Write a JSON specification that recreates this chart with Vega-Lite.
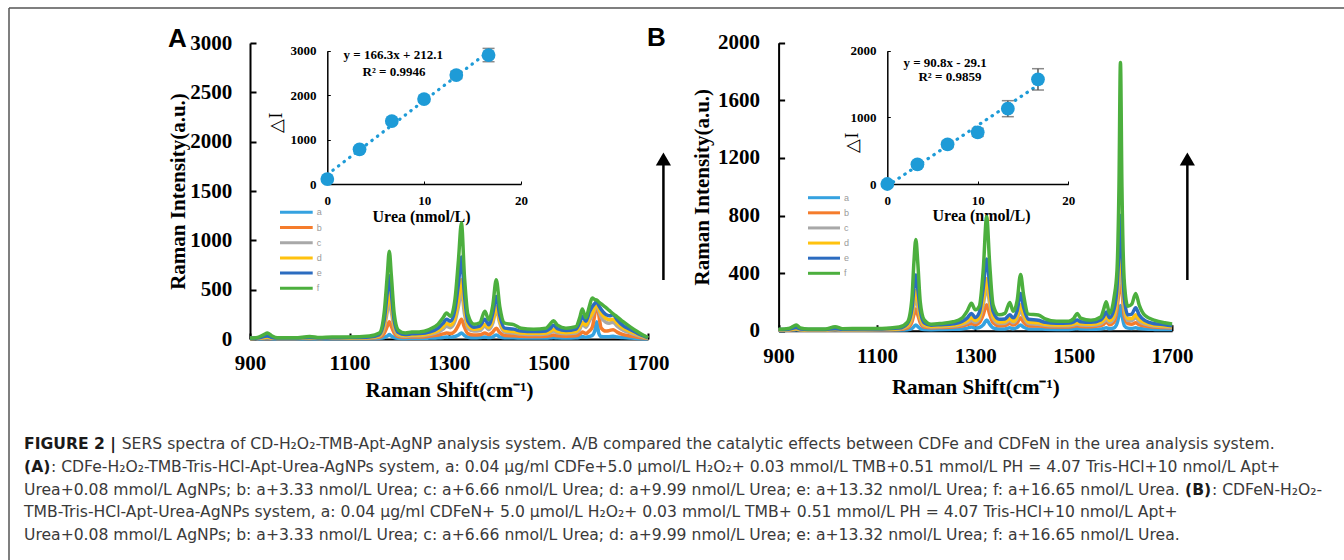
{
  "$schema": "https://vega.github.io/schema/vega-lite/v6.json",
  "width": 1344,
  "height": 560,
  "autosize": "none",
  "padding": 0,
  "background": "white",
  "config": {
    "view": {"stroke": null},
    "axis": {"grid": false, "format": "d", "labelFont": "Liberation Serif", "titleFont": "Liberation Serif", "labelColor": "#000", "titleColor": "#000", "domainColor": "#000", "tickColor": "#000", "labelFontWeight": "bold", "titleFontWeight": "bold", "labelFlush": false, "labelOverlap": false}
  },
  "resolve": {"scale": {"x": "independent", "y": "independent", "color": "independent"}, "axis": {"x": "independent", "y": "independent"}},
  "layer": [
    {
      "data": {"values": [{}]},
      "layer": [
        {"mark": {"type": "rule", "color": "#555555", "strokeWidth": 1.5},
         "encoding": {"x": {"datum": 0, "type": "quantitative", "scale": {"domain": [0, 1], "range": [9, 1344]}, "axis": null}, "x2": {"datum": 1},
                      "y": {"datum": 0, "type": "quantitative", "scale": {"domain": [0, 1], "range": [8, 560]}, "axis": null}}},
        {"mark": {"type": "rule", "color": "#555555", "strokeWidth": 1.5},
         "encoding": {"x": {"datum": 0, "type": "quantitative"}, "y": {"datum": 0, "type": "quantitative"}, "y2": {"datum": 1}}}
      ]
    },
    {
      "layer": [
        {"data": {"values": [{"x": 0, "y": 212.1}, {"x": 16.65, "y": 2981}]},
         "mark": {"type": "line", "color": "#1E9BD7", "strokeWidth": 3.2, "strokeDash": [0.5, 6.5], "strokeCap": "round"},
         "encoding": {
           "x": {"field": "x", "type": "quantitative", "scale": {"domain": [0, 20], "range": [327.3, 521], "zero": false, "nice": false},
                 "axis": {"orient": "bottom", "offset": -376, "values": [0, 10, 20], "labelFontSize": 13, "tickSize": -3, "labelPadding": 13.7, "domainWidth": 1.5, "title": "Urea (nmol/L)", "titleFontSize": 16, "titleX": 421, "titleY": 32.5, "titleBaseline": "middle", "titleAlign": "center"}},
           "y": {"field": "y", "type": "quantitative", "scale": {"domain": [0, 3000], "range": [184, 50.7], "zero": false, "nice": false},
                 "axis": {"orient": "left", "offset": -327.3, "values": [0, 1000, 2000, 3000], "labelFontSize": 13, "tickSize": -3, "labelPadding": 14.3, "domainWidth": 1.5, "title": "△I", "titleFontWeight": "normal", "titleFontSize": 18, "titleX": -50.6, "titleY": 122, "titleBaseline": "middle", "titleAngle": -90}}
         }},
        {"data": {"values": [{"x": 0, "y": 112, "lo": 92, "hi": 132}, {"x": 3.33, "y": 781, "lo": 741, "hi": 821}, {"x": 6.66, "y": 1417, "lo": 1367, "hi": 1467}, {"x": 9.99, "y": 1912, "lo": 1852, "hi": 1972}, {"x": 13.32, "y": 2452, "lo": 2372, "hi": 2532}, {"x": 16.65, "y": 2902, "lo": 2752, "hi": 3052}]},
         "layer": [
           {"mark": {"type": "rule", "color": "#595959", "strokeWidth": 1.5}, "encoding": {"x": {"field": "x", "type": "quantitative"}, "y": {"field": "lo", "type": "quantitative"}, "y2": {"field": "hi"}}},
           {"mark": {"type": "tick", "orient": "horizontal", "color": "#595959", "thickness": 1.5, "size": 12}, "encoding": {"x": {"field": "x", "type": "quantitative"}, "y": {"field": "lo", "type": "quantitative"}}},
           {"mark": {"type": "tick", "orient": "horizontal", "color": "#595959", "thickness": 1.5, "size": 12}, "encoding": {"x": {"field": "x", "type": "quantitative"}, "y": {"field": "hi", "type": "quantitative"}}},
           {"mark": {"type": "circle", "size": 190, "color": "#1E9BD7", "opacity": 1}, "encoding": {"x": {"field": "x", "type": "quantitative"}, "y": {"field": "y", "type": "quantitative"}}}
         ]},
        {"data": {"values": [{}]},
         "layer": [
           {"mark": {"type": "text", "text": "y = 166.3x + 212.1", "font": "Liberation Serif", "fontWeight": "bold", "fontSize": 13, "align": "center", "baseline": "middle"}, "encoding": {"x": {"datum": 6.81, "type": "quantitative"}, "y": {"datum": 2903, "type": "quantitative"}}},
           {"mark": {"type": "text", "text": "R² = 0.9946", "font": "Liberation Serif", "fontWeight": "bold", "fontSize": 13, "align": "center", "baseline": "middle"}, "encoding": {"x": {"datum": 6.89, "type": "quantitative"}, "y": {"datum": 2527, "type": "quantitative"}}}
         ]}
      ]
    },
    {
      "layer": [
        {"data": {"values": [{"x": 0, "y": -29.1}, {"x": 16.65, "y": 1482.7}]},
         "mark": {"type": "line", "color": "#1E9BD7", "strokeWidth": 3.2, "strokeDash": [0.5, 6.5], "strokeCap": "round"},
         "encoding": {
           "x": {"field": "x", "type": "quantitative", "scale": {"domain": [0, 20], "range": [887.3, 1068.3], "zero": false, "nice": false},
                 "axis": {"orient": "bottom", "offset": -376, "values": [0, 10, 20], "labelFontSize": 13, "tickSize": -3, "labelPadding": 13.7, "domainWidth": 1.5, "title": "Urea (nmol/L)", "titleFontSize": 16, "titleX": 981, "titleY": 31.5, "titleBaseline": "middle", "titleAlign": "center"}},
           "y": {"field": "y", "type": "quantitative", "scale": {"domain": [0, 2000], "range": [184, 50.7], "zero": false, "nice": false},
                 "axis": {"orient": "left", "offset": -887.3, "values": [0, 1000, 2000], "labelFontSize": 13, "tickSize": -3, "labelPadding": 14.3, "domainWidth": 1.5, "title": "△I", "titleFontWeight": "normal", "titleFontSize": 18, "titleX": -35, "titleY": 142, "titleBaseline": "middle", "titleAngle": -90}}
         }},
        {"data": {"values": [{"x": 0, "y": 0, "lo": -20, "hi": 20}, {"x": 3.33, "y": 296, "lo": 256, "hi": 336}, {"x": 6.66, "y": 595, "lo": 545, "hi": 645}, {"x": 9.99, "y": 775, "lo": 715, "hi": 835}, {"x": 13.32, "y": 1130, "lo": 1010, "hi": 1250}, {"x": 16.65, "y": 1570, "lo": 1410, "hi": 1730}]},
         "layer": [
           {"mark": {"type": "rule", "color": "#595959", "strokeWidth": 1.5}, "encoding": {"x": {"field": "x", "type": "quantitative"}, "y": {"field": "lo", "type": "quantitative"}, "y2": {"field": "hi"}}},
           {"mark": {"type": "tick", "orient": "horizontal", "color": "#595959", "thickness": 1.5, "size": 12}, "encoding": {"x": {"field": "x", "type": "quantitative"}, "y": {"field": "lo", "type": "quantitative"}}},
           {"mark": {"type": "tick", "orient": "horizontal", "color": "#595959", "thickness": 1.5, "size": 12}, "encoding": {"x": {"field": "x", "type": "quantitative"}, "y": {"field": "hi", "type": "quantitative"}}},
           {"mark": {"type": "circle", "size": 190, "color": "#1E9BD7", "opacity": 1}, "encoding": {"x": {"field": "x", "type": "quantitative"}, "y": {"field": "y", "type": "quantitative"}}}
         ]},
        {"data": {"values": [{}]},
         "layer": [
           {"mark": {"type": "text", "text": "y = 90.8x - 29.1", "font": "Liberation Serif", "fontWeight": "bold", "fontSize": 13, "align": "center", "baseline": "middle"}, "encoding": {"x": {"datum": 6.38, "type": "quantitative"}, "y": {"datum": 1820, "type": "quantitative"}}},
           {"mark": {"type": "text", "text": "R² = 0.9859", "font": "Liberation Serif", "fontWeight": "bold", "fontSize": 13, "align": "center", "baseline": "middle"}, "encoding": {"x": {"datum": 6.92, "type": "quantitative"}, "y": {"datum": 1610, "type": "quantitative"}}}
         ]}
      ]
    },
    {
      "layer": [
        {"data": {"values": [
          {"x": 900, "a": 2, "b": 5, "c": 6, "d": 6, "e": 8, "f": 10},
          {"x": 915, "a": 3, "b": 6, "c": 8, "d": 8, "e": 10, "f": 15},
          {"x": 928, "a": 6, "b": 12, "c": 15, "d": 15, "e": 25, "f": 45},
          {"x": 935, "a": 8, "b": 15, "c": 20, "d": 20, "e": 30, "f": 60},
          {"x": 943, "a": 5, "b": 10, "c": 12, "d": 12, "e": 18, "f": 35},
          {"x": 955, "a": 3, "b": 6, "c": 8, "d": 8, "e": 10, "f": 12},
          {"x": 990, "a": 3, "b": 6, "c": 8, "d": 8, "e": 10, "f": 12},
          {"x": 1020, "a": 4, "b": 8, "c": 10, "d": 10, "e": 15, "f": 25},
          {"x": 1040, "a": 3, "b": 6, "c": 8, "d": 8, "e": 10, "f": 14},
          {"x": 1065, "a": 4, "b": 7, "c": 9, "d": 9, "e": 12, "f": 20},
          {"x": 1100, "a": 4, "b": 7, "c": 10, "d": 10, "e": 14, "f": 20},
          {"x": 1140, "a": 5, "b": 10, "c": 14, "d": 14, "e": 20, "f": 30},
          {"x": 1160, "a": 8, "b": 18, "c": 30, "d": 35, "e": 45, "f": 60},
          {"x": 1170, "a": 15, "b": 60, "c": 120, "d": 150, "e": 200, "f": 280},
          {"x": 1176, "a": 30, "b": 130, "c": 280, "d": 350, "e": 470, "f": 650},
          {"x": 1180, "a": 45, "b": 175, "c": 400, "d": 480, "e": 640, "f": 890},
          {"x": 1184, "a": 30, "b": 130, "c": 280, "d": 350, "e": 470, "f": 650},
          {"x": 1190, "a": 15, "b": 60, "c": 110, "d": 140, "e": 180, "f": 250},
          {"x": 1198, "a": 8, "b": 25, "c": 40, "d": 50, "e": 65, "f": 90},
          {"x": 1212, "a": 6, "b": 18, "c": 28, "d": 35, "e": 45, "f": 60},
          {"x": 1225, "a": 7, "b": 20, "c": 32, "d": 40, "e": 52, "f": 70},
          {"x": 1240, "a": 7, "b": 20, "c": 32, "d": 40, "e": 55, "f": 72},
          {"x": 1260, "a": 9, "b": 28, "c": 45, "d": 55, "e": 70, "f": 95},
          {"x": 1278, "a": 12, "b": 40, "c": 70, "d": 85, "e": 110, "f": 150},
          {"x": 1288, "a": 16, "b": 52, "c": 100, "d": 125, "e": 160, "f": 215},
          {"x": 1295, "a": 20, "b": 60, "c": 130, "d": 160, "e": 200, "f": 263},
          {"x": 1303, "a": 18, "b": 55, "c": 115, "d": 140, "e": 180, "f": 230},
          {"x": 1312, "a": 25, "b": 80, "c": 180, "d": 220, "e": 300, "f": 400},
          {"x": 1319, "a": 40, "b": 140, "c": 330, "d": 400, "e": 560, "f": 800},
          {"x": 1325, "a": 60, "b": 200, "c": 480, "d": 600, "e": 830, "f": 1175},
          {"x": 1331, "a": 35, "b": 120, "c": 260, "d": 330, "e": 450, "f": 640},
          {"x": 1338, "a": 18, "b": 55, "c": 110, "d": 140, "e": 180, "f": 250},
          {"x": 1350, "a": 12, "b": 40, "c": 80, "d": 100, "e": 120, "f": 150},
          {"x": 1362, "a": 14, "b": 42, "c": 85, "d": 105, "e": 130, "f": 165},
          {"x": 1372, "a": 20, "b": 60, "c": 130, "d": 150, "e": 200, "f": 280},
          {"x": 1380, "a": 14, "b": 45, "c": 95, "d": 115, "e": 145, "f": 195},
          {"x": 1388, "a": 22, "b": 70, "c": 160, "d": 190, "e": 260, "f": 340},
          {"x": 1395, "a": 40, "b": 110, "c": 300, "d": 330, "e": 430, "f": 600},
          {"x": 1402, "a": 22, "b": 65, "c": 160, "d": 185, "e": 240, "f": 330},
          {"x": 1412, "a": 12, "b": 35, "c": 70, "d": 85, "e": 110, "f": 160},
          {"x": 1430, "a": 12, "b": 32, "c": 60, "d": 75, "e": 100, "f": 145},
          {"x": 1445, "a": 10, "b": 28, "c": 50, "d": 62, "e": 80, "f": 110},
          {"x": 1470, "a": 9, "b": 25, "c": 45, "d": 58, "e": 75, "f": 100},
          {"x": 1495, "a": 10, "b": 28, "c": 50, "d": 62, "e": 82, "f": 110},
          {"x": 1503, "a": 12, "b": 33, "c": 62, "d": 78, "e": 105, "f": 150},
          {"x": 1510, "a": 15, "b": 40, "c": 80, "d": 100, "e": 140, "f": 185},
          {"x": 1518, "a": 12, "b": 32, "c": 62, "d": 78, "e": 105, "f": 140},
          {"x": 1535, "a": 10, "b": 28, "c": 52, "d": 64, "e": 85, "f": 110},
          {"x": 1555, "a": 12, "b": 32, "c": 60, "d": 75, "e": 100, "f": 125},
          {"x": 1563, "a": 18, "b": 50, "c": 100, "d": 125, "e": 170, "f": 220},
          {"x": 1568, "a": 25, "b": 70, "c": 150, "d": 170, "e": 230, "f": 303},
          {"x": 1575, "a": 18, "b": 55, "c": 120, "d": 140, "e": 180, "f": 215},
          {"x": 1582, "a": 25, "b": 80, "c": 180, "d": 210, "e": 270, "f": 330},
          {"x": 1588, "a": 35, "b": 120, "c": 240, "d": 260, "e": 330, "f": 415},
          {"x": 1593, "a": 80, "b": 250, "c": 300, "d": 320, "e": 360, "f": 400},
          {"x": 1597, "a": 175, "b": 390, "c": 360, "d": 370, "e": 380, "f": 395},
          {"x": 1601, "a": 60, "b": 250, "c": 290, "d": 310, "e": 340, "f": 375},
          {"x": 1606, "a": 25, "b": 110, "c": 220, "d": 260, "e": 300, "f": 355},
          {"x": 1615, "a": 22, "b": 80, "c": 170, "d": 210, "e": 250, "f": 320},
          {"x": 1622, "a": 24, "b": 85, "c": 160, "d": 195, "e": 235, "f": 290},
          {"x": 1630, "a": 28, "b": 95, "c": 170, "d": 200, "e": 245, "f": 255},
          {"x": 1638, "a": 20, "b": 70, "c": 130, "d": 160, "e": 195, "f": 225},
          {"x": 1650, "a": 15, "b": 45, "c": 90, "d": 110, "e": 135, "f": 175},
          {"x": 1665, "a": 10, "b": 30, "c": 60, "d": 75, "e": 95, "f": 120},
          {"x": 1680, "a": 6, "b": 18, "c": 35, "d": 45, "e": 55, "f": 70},
          {"x": 1692, "a": 3, "b": 10, "c": 18, "d": 22, "e": 28, "f": 35},
          {"x": 1700, "a": 2, "b": 5, "c": 8, "d": 10, "e": 12, "f": 15}
         ]},
         "transform": [{"fold": ["a", "b", "c", "d", "e", "f"], "as": ["series", "value"]}],
         "mark": {"type": "line", "strokeWidth": 3.5, "interpolate": "monotone", "strokeJoin": "round"},
         "encoding": {
           "x": {"field": "x", "type": "quantitative", "scale": {"domain": [900, 1700], "range": [250, 648], "zero": false, "nice": false},
                 "axis": {"orient": "bottom", "offset": -221, "values": [900, 1100, 1300, 1500, 1700], "labelFontSize": 21, "tickSize": -6, "tickWidth": 2, "labelPadding": 19, "domainWidth": 2, "title": "Raman Shift(cm⁻¹)", "titleFontSize": 21, "titleY": 51, "titleBaseline": "middle"}},
           "y": {"field": "value", "type": "quantitative", "scale": {"domain": [0, 3000], "range": [339, 43], "zero": false, "nice": false},
                 "axis": {"orient": "left", "offset": -250, "values": [0, 500, 1000, 1500, 2000, 2500, 3000], "labelFontSize": 21, "tickSize": -6, "tickWidth": 2, "labelPadding": 24.3, "domainWidth": 2, "title": "Raman Intensity(a.u.)", "titleFontSize": 21, "titleX": -71.7, "titleBaseline": "middle", "titleAngle": -90}},
           "color": {"field": "series", "type": "nominal", "scale": {"domain": ["a", "b", "c", "d", "e", "f"], "range": ["#35A2E0", "#F57C2C", "#A8A8A8", "#FFC20E", "#2C6CC0", "#4CAF3E"]}, "legend": null}
         }},
        {"data": {"values": [{}]},
         "layer": [
           {"mark": {"type": "rule", "strokeWidth": 2.5, "color": "#000"}, "encoding": {"x": {"datum": 1731, "type": "quantitative"}, "y": {"datum": 598, "type": "quantitative"}, "y2": {"datum": 1824}}},
           {"mark": {"type": "point", "shape": "triangle-up", "filled": true, "size": 230, "color": "#000", "opacity": 1}, "encoding": {"x": {"datum": 1731, "type": "quantitative"}, "y": {"datum": 1824, "type": "quantitative"}}},
           {"mark": {"type": "text", "text": "A", "font": "Liberation Sans", "fontWeight": "bold", "fontSize": 26, "align": "center", "baseline": "middle"}, "encoding": {"x": {"datum": 754.3, "type": "quantitative"}, "y": {"datum": 3040.5, "type": "quantitative"}}}
         ]}
      ]
    },
    {
      "layer": [
        {"data": {"values": [
          {"x": 900, "a": 2, "b": 4, "c": 5, "d": 6, "e": 8, "f": 10},
          {"x": 920, "a": 3, "b": 5, "c": 7, "d": 8, "e": 10, "f": 15},
          {"x": 930, "a": 5, "b": 8, "c": 10, "d": 12, "e": 18, "f": 30},
          {"x": 936, "a": 6, "b": 10, "c": 12, "d": 14, "e": 22, "f": 39},
          {"x": 944, "a": 4, "b": 6, "c": 8, "d": 9, "e": 12, "f": 20},
          {"x": 960, "a": 3, "b": 5, "c": 6, "d": 7, "e": 9, "f": 12},
          {"x": 995, "a": 3, "b": 5, "c": 6, "d": 7, "e": 9, "f": 12},
          {"x": 1015, "a": 4, "b": 7, "c": 9, "d": 10, "e": 14, "f": 28},
          {"x": 1030, "a": 3, "b": 5, "c": 7, "d": 8, "e": 10, "f": 14},
          {"x": 1070, "a": 3, "b": 6, "c": 8, "d": 9, "e": 11, "f": 16},
          {"x": 1110, "a": 4, "b": 6, "c": 8, "d": 10, "e": 12, "f": 16},
          {"x": 1145, "a": 5, "b": 9, "c": 12, "d": 14, "e": 18, "f": 25},
          {"x": 1162, "a": 7, "b": 20, "c": 30, "d": 35, "e": 50, "f": 60},
          {"x": 1171, "a": 15, "b": 60, "c": 90, "d": 110, "e": 150, "f": 220},
          {"x": 1175, "a": 28, "b": 110, "c": 170, "d": 210, "e": 290, "f": 470},
          {"x": 1179, "a": 40, "b": 150, "c": 230, "d": 280, "e": 387, "f": 634},
          {"x": 1183, "a": 28, "b": 110, "c": 170, "d": 210, "e": 290, "f": 470},
          {"x": 1188, "a": 14, "b": 55, "c": 85, "d": 100, "e": 140, "f": 200},
          {"x": 1196, "a": 8, "b": 25, "c": 35, "d": 42, "e": 55, "f": 75},
          {"x": 1210, "a": 7, "b": 20, "c": 26, "d": 30, "e": 38, "f": 45},
          {"x": 1230, "a": 8, "b": 22, "c": 28, "d": 33, "e": 42, "f": 50},
          {"x": 1255, "a": 10, "b": 26, "c": 32, "d": 38, "e": 48, "f": 62},
          {"x": 1272, "a": 12, "b": 32, "c": 42, "d": 50, "e": 62, "f": 85},
          {"x": 1284, "a": 18, "b": 42, "c": 58, "d": 70, "e": 90, "f": 140},
          {"x": 1292, "a": 25, "b": 50, "c": 70, "d": 90, "e": 120, "f": 190},
          {"x": 1300, "a": 18, "b": 42, "c": 58, "d": 70, "e": 92, "f": 145},
          {"x": 1308, "a": 22, "b": 55, "c": 80, "d": 95, "e": 125, "f": 170},
          {"x": 1316, "a": 40, "b": 110, "c": 180, "d": 215, "e": 295, "f": 420},
          {"x": 1323, "a": 75, "b": 180, "c": 300, "d": 360, "e": 498, "f": 792},
          {"x": 1329, "a": 45, "b": 115, "c": 190, "d": 230, "e": 320, "f": 470},
          {"x": 1336, "a": 20, "b": 55, "c": 85, "d": 100, "e": 135, "f": 180},
          {"x": 1348, "a": 12, "b": 35, "c": 50, "d": 60, "e": 80, "f": 110},
          {"x": 1360, "a": 12, "b": 36, "c": 52, "d": 62, "e": 82, "f": 120},
          {"x": 1370, "a": 20, "b": 50, "c": 70, "d": 85, "e": 110, "f": 195},
          {"x": 1377, "a": 14, "b": 40, "c": 55, "d": 65, "e": 90, "f": 135},
          {"x": 1385, "a": 22, "b": 55, "c": 85, "d": 100, "e": 140, "f": 210},
          {"x": 1392, "a": 40, "b": 90, "c": 140, "d": 180, "e": 259, "f": 391},
          {"x": 1398, "a": 25, "b": 60, "c": 95, "d": 115, "e": 165, "f": 250},
          {"x": 1408, "a": 12, "b": 35, "c": 50, "d": 60, "e": 80, "f": 115},
          {"x": 1428, "a": 12, "b": 32, "c": 45, "d": 55, "e": 72, "f": 109},
          {"x": 1442, "a": 10, "b": 28, "c": 38, "d": 45, "e": 58, "f": 82},
          {"x": 1465, "a": 9, "b": 25, "c": 34, "d": 40, "e": 52, "f": 65},
          {"x": 1490, "a": 9, "b": 26, "c": 35, "d": 42, "e": 54, "f": 66},
          {"x": 1500, "a": 11, "b": 30, "c": 40, "d": 48, "e": 62, "f": 85},
          {"x": 1507, "a": 15, "b": 35, "c": 45, "d": 55, "e": 75, "f": 120},
          {"x": 1514, "a": 11, "b": 30, "c": 40, "d": 48, "e": 62, "f": 88},
          {"x": 1535, "a": 10, "b": 28, "c": 38, "d": 45, "e": 58, "f": 72},
          {"x": 1555, "a": 12, "b": 35, "c": 48, "d": 58, "e": 75, "f": 95},
          {"x": 1561, "a": 16, "b": 45, "c": 62, "d": 75, "e": 100, "f": 150},
          {"x": 1566, "a": 20, "b": 60, "c": 80, "d": 100, "e": 130, "f": 201},
          {"x": 1573, "a": 14, "b": 42, "c": 58, "d": 70, "e": 90, "f": 120},
          {"x": 1582, "a": 20, "b": 60, "c": 90, "d": 110, "e": 150, "f": 230},
          {"x": 1588, "a": 50, "b": 150, "c": 200, "d": 240, "e": 300, "f": 420},
          {"x": 1592, "a": 110, "b": 280, "c": 360, "d": 450, "e": 560, "f": 1000},
          {"x": 1595, "a": 175, "b": 400, "c": 500, "d": 620, "e": 800, "f": 1863},
          {"x": 1598, "a": 110, "b": 280, "c": 350, "d": 420, "e": 540, "f": 1000},
          {"x": 1603, "a": 35, "b": 100, "c": 140, "d": 170, "e": 220, "f": 330},
          {"x": 1610, "a": 18, "b": 50, "c": 70, "d": 85, "e": 110, "f": 170},
          {"x": 1618, "a": 16, "b": 45, "c": 70, "d": 85, "e": 115, "f": 185},
          {"x": 1626, "a": 20, "b": 55, "c": 90, "d": 110, "e": 160, "f": 259},
          {"x": 1633, "a": 15, "b": 42, "c": 65, "d": 80, "e": 110, "f": 180},
          {"x": 1645, "a": 11, "b": 32, "c": 45, "d": 55, "e": 70, "f": 105},
          {"x": 1665, "a": 9, "b": 25, "c": 32, "d": 38, "e": 48, "f": 72},
          {"x": 1685, "a": 8, "b": 22, "c": 28, "d": 33, "e": 42, "f": 55},
          {"x": 1700, "a": 8, "b": 20, "c": 25, "d": 30, "e": 35, "f": 46}
         ]},
         "transform": [{"fold": ["a", "b", "c", "d", "e", "f"], "as": ["series", "value"]}],
         "mark": {"type": "line", "strokeWidth": 3.5, "interpolate": "monotone", "strokeJoin": "round"},
         "encoding": {
           "x": {"field": "x", "type": "quantitative", "scale": {"domain": [900, 1700], "range": [778.6, 1172.1], "zero": false, "nice": false},
                 "axis": {"orient": "bottom", "offset": -229.3, "values": [900, 1100, 1300, 1500, 1700], "labelFontSize": 21, "tickSize": -6, "tickWidth": 2, "labelPadding": 20.6, "domainWidth": 2, "title": "Raman Shift(cm⁻¹)", "titleFontSize": 21, "titleY": 57, "titleBaseline": "middle"}},
           "y": {"field": "value", "type": "quantitative", "scale": {"domain": [0, 2000], "range": [330.7, 42.7], "zero": false, "nice": false},
                 "axis": {"orient": "left", "offset": -778.6, "values": [0, 400, 800, 1200, 1600, 2000], "labelFontSize": 21, "tickSize": -6, "tickWidth": 2, "labelPadding": 25, "domainWidth": 2, "title": "Raman Intensity(a.u.)", "titleFontSize": 21, "titleX": -76.1, "titleBaseline": "middle", "titleAngle": -90}},
           "color": {"field": "series", "type": "nominal", "scale": {"domain": ["a", "b", "c", "d", "e", "f"], "range": ["#35A2E0", "#F57C2C", "#A8A8A8", "#FFC20E", "#2C6CC0", "#4CAF3E"]}, "legend": null}
         }},
        {"data": {"values": [{}]},
         "layer": [
           {"mark": {"type": "rule", "strokeWidth": 2.5, "color": "#000"}, "encoding": {"x": {"datum": 1731, "type": "quantitative"}, "y": {"datum": 352, "type": "quantitative"}, "y2": {"datum": 1192}}},
           {"mark": {"type": "point", "shape": "triangle-up", "filled": true, "size": 230, "color": "#000", "opacity": 1}, "encoding": {"x": {"datum": 1731, "type": "quantitative"}, "y": {"datum": 1192, "type": "quantitative"}}},
           {"mark": {"type": "text", "text": "B", "font": "Liberation Sans", "fontWeight": "bold", "fontSize": 26, "align": "center", "baseline": "middle"}, "encoding": {"x": {"datum": 651.6, "type": "quantitative"}, "y": {"datum": 2034.7, "type": "quantitative"}}}
         ]}
      ]
    },
    {
      "data": {"values": [{"s": "a"}, {"s": "b"}, {"s": "c"}, {"s": "d"}, {"s": "e"}, {"s": "f"}]},
      "layer": [
        {"mark": {"type": "rule", "strokeWidth": 3},
         "encoding": {"x": {"datum": 0, "type": "quantitative", "scale": {"domain": [0, 1], "range": [280, 312.7]}, "axis": null}, "x2": {"datum": 1},
                      "y": {"field": "s", "type": "nominal", "scale": {"type": "point", "domain": ["a", "b", "c", "d", "e", "f"], "range": [212.3, 288.3], "padding": 0}, "axis": null},
                      "color": {"field": "s", "type": "nominal", "scale": {"domain": ["a", "b", "c", "d", "e", "f"], "range": ["#35A2E0", "#F57C2C", "#A8A8A8", "#FFC20E", "#2C6CC0", "#4CAF3E"]}, "legend": null}}},
        {"mark": {"type": "text", "align": "left", "baseline": "middle", "dx": 4, "fontSize": 9, "font": "Liberation Sans", "color": "#9a9a9a"},
         "encoding": {"x": {"datum": 1, "type": "quantitative"}, "y": {"field": "s", "type": "nominal"}, "text": {"field": "s"}}}
      ]
    },
    {
      "data": {"values": [{"s": "a"}, {"s": "b"}, {"s": "c"}, {"s": "d"}, {"s": "e"}, {"s": "f"}]},
      "layer": [
        {"mark": {"type": "rule", "strokeWidth": 3},
         "encoding": {"x": {"datum": 0, "type": "quantitative", "scale": {"domain": [0, 1], "range": [808, 840]}, "axis": null}, "x2": {"datum": 1},
                      "y": {"field": "s", "type": "nominal", "scale": {"type": "point", "domain": ["a", "b", "c", "d", "e", "f"], "range": [197.7, 273.3], "padding": 0}, "axis": null},
                      "color": {"field": "s", "type": "nominal", "scale": {"domain": ["a", "b", "c", "d", "e", "f"], "range": ["#35A2E0", "#F57C2C", "#A8A8A8", "#FFC20E", "#2C6CC0", "#4CAF3E"]}, "legend": null}}},
        {"mark": {"type": "text", "align": "left", "baseline": "middle", "dx": 4, "fontSize": 9, "font": "Liberation Sans", "color": "#9a9a9a"},
         "encoding": {"x": {"datum": 1, "type": "quantitative"}, "y": {"field": "s", "type": "nominal"}, "text": {"field": "s"}}}
      ]
    },
    {
      "layer": [
        {"data": {"values": [{"line": 1, "t": "FIGURE 2 |"}, {"line": 2, "t": "(A)"}]},
         "mark": {"type": "text", "align": "left", "baseline": "alphabetic", "font": "DejaVu Sans", "fontWeight": "bold", "fontSize": 15.6, "color": "#1a1a1a"},
         "encoding": {"x": {"datum": 0, "type": "quantitative", "scale": {"domain": [0, 1], "range": [24, 1344]}, "axis": null},
                      "y": {"field": "line", "type": "quantitative", "scale": {"domain": [1, 5], "range": [449.3, 540]}, "axis": null},
                      "text": {"field": "t"}}},
        {"data": {"values": [{"line": 1, "t": "SERS spectra of CD-H₂O₂-TMB-Apt-AgNP analysis system. A/B compared the catalytic effects between CDFe and CDFeN in the urea analysis system."}]},
         "mark": {"type": "text", "align": "left", "baseline": "alphabetic", "font": "DejaVu Sans", "fontSize": 15.6, "color": "#3a3a3a", "dx": 97.7},
         "encoding": {"x": {"datum": 0, "type": "quantitative"}, "y": {"field": "line", "type": "quantitative"}, "text": {"field": "t"}}},
        {"data": {"values": [{"line": 2, "t": ": CDFe-H₂O₂-TMB-Tris-HCl-Apt-Urea-AgNPs system, a: 0.04 μg/ml CDFe+5.0 μmol/L H₂O₂+ 0.03 mmol/L TMB+0.51 mmol/L PH = 4.07 Tris-HCl+10 nmol/L Apt+"}]},
         "mark": {"type": "text", "align": "left", "baseline": "alphabetic", "font": "DejaVu Sans", "fontSize": 15.6, "color": "#3a3a3a", "dx": 27},
         "encoding": {"x": {"datum": 0, "type": "quantitative"}, "y": {"field": "line", "type": "quantitative"}, "text": {"field": "t"}}},
        {"data": {"values": [
          {"line": 3, "t": "Urea+0.08 mmol/L AgNPs; b: a+3.33 nmol/L Urea; c: a+6.66 nmol/L Urea; d: a+9.99 nmol/L Urea; e: a+13.32 nmol/L Urea; f: a+16.65 nmol/L Urea."},
          {"line": 4, "t": "TMB-Tris-HCl-Apt-Urea-AgNPs system, a: 0.04 μg/ml CDFeN+ 5.0 μmol/L H₂O₂+ 0.03 mmol/L TMB+ 0.51 mmol/L PH = 4.07 Tris-HCl+10 nmol/L Apt+"},
          {"line": 5, "t": "Urea+0.08 mmol/L AgNPs; b: a+3.33 nmol/L Urea; c: a+6.66 nmol/L Urea; d: a+9.99 nmol/L Urea; e: a+13.32 nmol/L Urea; f: a+16.65 nmol/L Urea."}
         ]},
         "mark": {"type": "text", "align": "left", "baseline": "alphabetic", "font": "DejaVu Sans", "fontSize": 15.6, "color": "#3a3a3a"},
         "encoding": {"x": {"datum": 0, "type": "quantitative"}, "y": {"field": "line", "type": "quantitative"}, "text": {"field": "t"}}},
        {"data": {"values": [{"line": 3, "t": "(B)"}]},
         "mark": {"type": "text", "align": "left", "baseline": "alphabetic", "font": "DejaVu Sans", "fontWeight": "bold", "fontSize": 15.6, "color": "#1a1a1a", "dx": 1161},
         "encoding": {"x": {"datum": 0, "type": "quantitative"}, "y": {"field": "line", "type": "quantitative"}, "text": {"field": "t"}}},
        {"data": {"values": [{"line": 3, "t": ": CDFeN-H₂O₂-"}]},
         "mark": {"type": "text", "align": "left", "baseline": "alphabetic", "font": "DejaVu Sans", "fontSize": 15.6, "color": "#3a3a3a", "dx": 1188},
         "encoding": {"x": {"datum": 0, "type": "quantitative"}, "y": {"field": "line", "type": "quantitative"}, "text": {"field": "t"}}}
      ]
    }
  ]
}
